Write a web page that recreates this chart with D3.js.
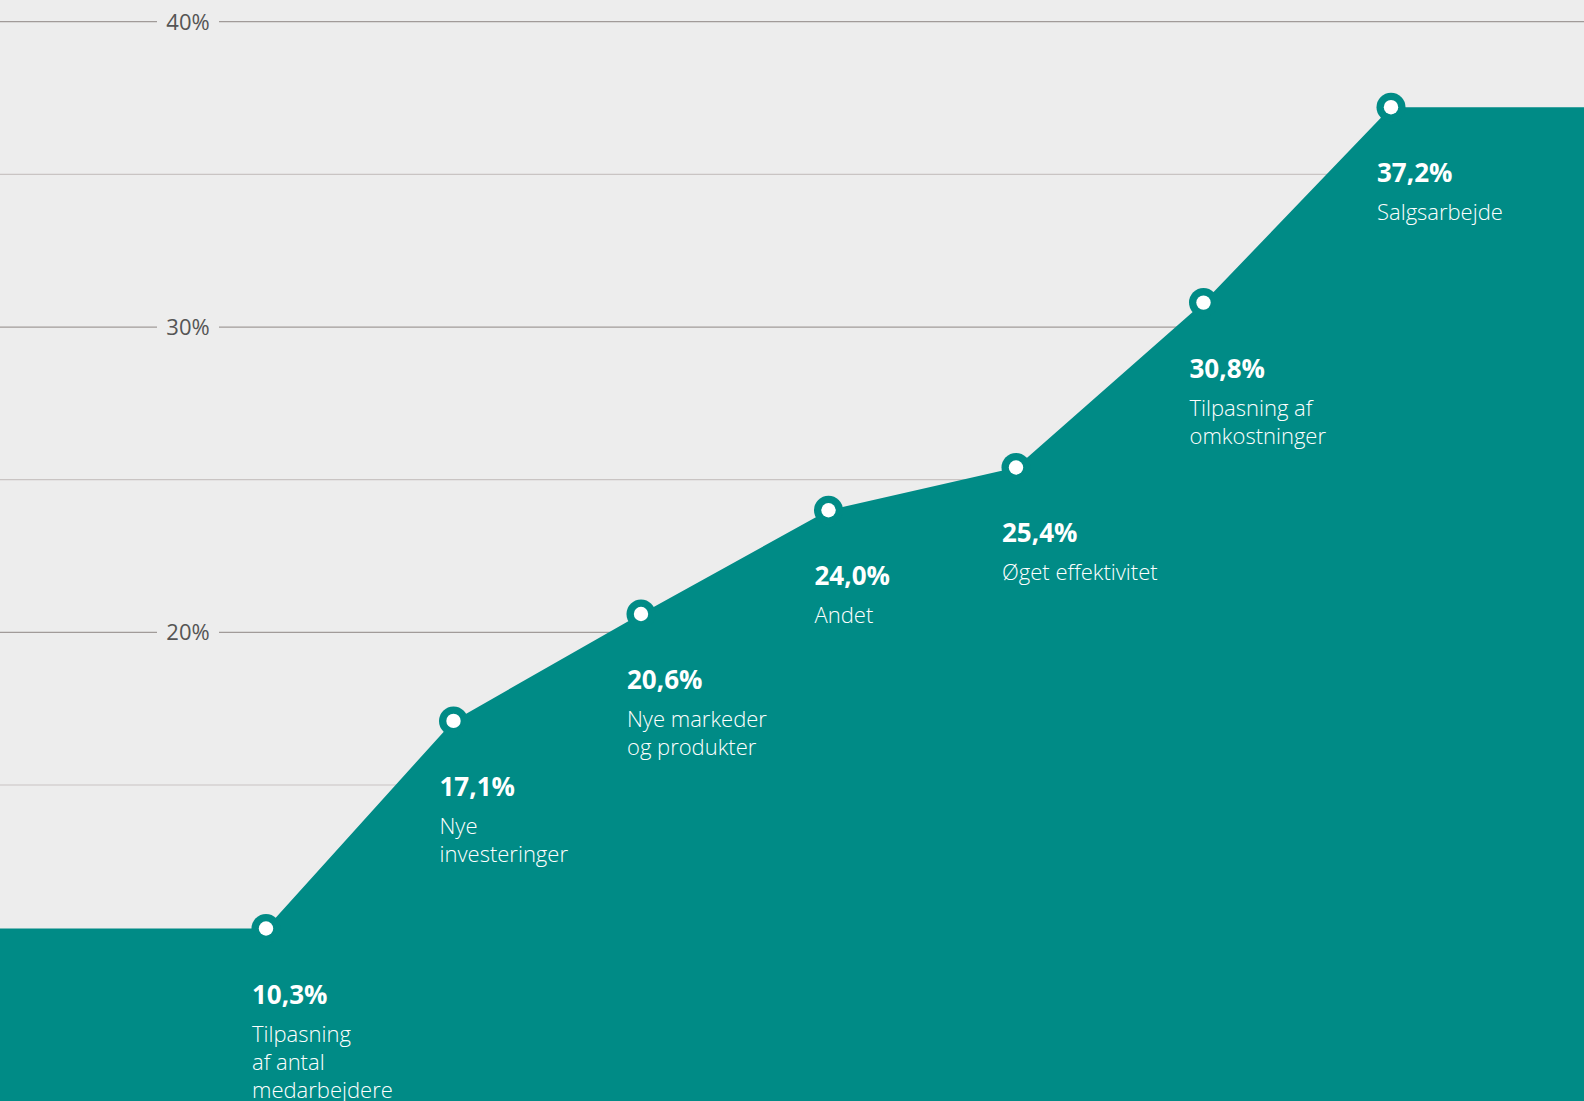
<!DOCTYPE html>
<html>
<head>
<meta charset="utf-8">
<script src="https://cdn.jsdelivr.net/npm/d3@7"></script>
<style>
  html, body { margin: 0; padding: 0; background: #ededed; overflow: hidden; }
</style>
</head>
<body>
<div id="chart"></div>
<script>
const WIDTH = 1584;
const HEIGHT = 1101;

// data
const categories = [
  ["Tilpasning", "af antal", "medarbejdere"],
  ["Nye", "investeringer"],
  ["Nye markeder", "og produkter"],
  ["Andet"],
  ["Øget effektivitet"],
  ["Tilpasning af", "omkostninger"],
  ["Salgsarbejde"]
];
const values = [10.3, 17.1, 20.6, 24.0, 25.4, 30.8, 37.2];
const majorTicks = [20, 30, 40];
const minorTicks = [15, 25, 35];

const TEAL = "#008b86";
const fmt = v => v.toFixed(1).replace(".", ",") + "%";

const svg = d3.select("#chart")
  .append("svg")
  .attr("width", WIDTH)
  .attr("height", HEIGHT)
  .style("display", "block")
  .style("background-color", "#ededed");

const x = d3.scalePoint()
  .domain(d3.range(values.length))
  .range([266, 1391]);

const y = d3.scaleLinear()
  .domain([0, 40])
  .range([1243, 21.7]);

// grid lines
svg.append("g")
  .selectAll("line")
  .data(minorTicks)
  .join("line")
  .attr("x1", 0)
  .attr("x2", WIDTH)
  .attr("y1", d => y(d))
  .attr("y2", d => y(d))
  .attr("stroke", "#c9c4c3")
  .attr("stroke-width", 1.2);

const major = svg.append("g");
major.selectAll("line.l")
  .data(majorTicks)
  .join("line")
  .attr("class", "l")
  .attr("x1", 0)
  .attr("x2", 157)
  .attr("y1", d => y(d))
  .attr("y2", d => y(d))
  .attr("stroke", "#a19b99")
  .attr("stroke-width", 1.2);
major.selectAll("line.r")
  .data(majorTicks)
  .join("line")
  .attr("class", "r")
  .attr("x1", 219)
  .attr("x2", WIDTH)
  .attr("y1", d => y(d))
  .attr("y2", d => y(d))
  .attr("stroke", "#a19b99")
  .attr("stroke-width", 1.2);
major.selectAll("text")
  .data(majorTicks)
  .join("text")
  .attr("x", 188)
  .attr("y", d => y(d) + 8)
  .attr("text-anchor", "middle")
  .style("font-family", "'Open Sans', sans-serif")
  .style("font-size", "22px")
  .style("fill", "#555")
  .text(d => d + "%");

// area, flat to both edges
const pts = values.map((v, i) => [x(i), y(v)]);
const ext = [[0, pts[0][1]], ...pts, [WIDTH, pts[pts.length - 1][1]]];

const area = d3.area()
  .x(d => d[0])
  .y0(HEIGHT + 10)
  .y1(d => d[1]);

svg.append("path")
  .datum(ext)
  .attr("d", area)
  .attr("fill", TEAL);

// markers
const marks = svg.append("g")
  .selectAll("g")
  .data(values)
  .join("g")
  .attr("transform", (d, i) => `translate(${x(i)},${y(d)})`);
marks.append("circle").attr("r", 14.5).attr("fill", TEAL);
marks.append("circle").attr("r", 7.2).attr("fill", "white");

// labels
const labels = svg.append("g")
  .selectAll("g")
  .data(values)
  .join("g")
  .attr("transform", (d, i) => `translate(${x(i) - 14},${y(d)})`);

labels.append("text")
  .attr("y", 75)
  .style("font-family", "'Open Sans', sans-serif")
  .style("font-size", "26px")
  .style("font-weight", 700)
  .style("fill", "white")
  .text(d => fmt(d));

labels.each(function (d, i) {
  const t = d3.select(this).append("text")
    .style("font-family", "'Open Sans', sans-serif")
    .style("font-size", "22px")
    .style("font-weight", 300)
    .style("fill", "white");
  categories[i].forEach((line, k) => {
    t.append("tspan")
      .attr("x", 0)
      .attr("y", 113 + k * 28)
      .text(line);
  });
});
</script>
</body>
</html>
